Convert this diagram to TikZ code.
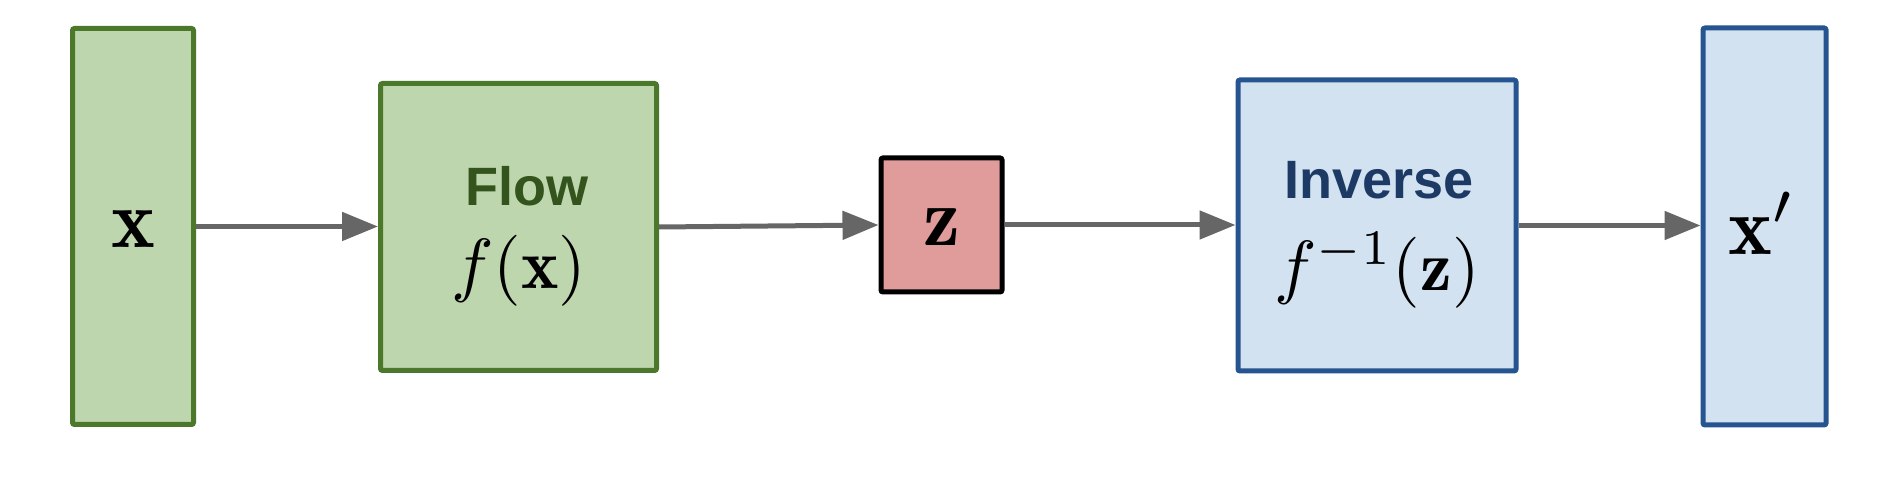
\documentclass[tikz,border=0pt]{standalone}
\usepackage{fontspec}
\newfontfamily\labelfont{Liberation Sans}
\usetikzlibrary{arrows.meta,positioning,calc}
\definecolor{gfill}{RGB}{190,214,174}
\definecolor{gline}{RGB}{75,120,42}
\definecolor{gtext}{RGB}{52,84,30}
\definecolor{bfill}{RGB}{210,226,241}
\definecolor{bline}{RGB}{38,84,145}
\definecolor{btext}{RGB}{28,58,100}
\definecolor{rfill}{RGB}{224,155,155}
\definecolor{arrgray}{RGB}{102,102,102}
\tikzset{
  box/.style={draw, line width=5pt, rounded corners=2pt, inner sep=0pt},
  greenbox/.style={box, draw=gline, fill=gfill},
  bluebox/.style={box, draw=bline, fill=bfill},
  redbox/.style={box, draw=black, fill=rfill},
  mathtxt/.style={font=\fontsize{10}{12}\selectfont, inner sep=0pt, scale=7.1},
  bigmath/.style={font=\fontsize{10}{12}\selectfont, inner sep=0pt, scale=8.3},
  titletxt/.style={font=\labelfont\bfseries\fontsize{54}{64}\selectfont, inner sep=0pt},
  conn/.style={draw=arrgray, line width=5pt, -{Triangle[length=36pt,width=28pt]}}
}
\begin{document}
\begin{tikzpicture}[x=1pt,y=1pt]
\useasboundingbox (0,0) rectangle (1878,486);
\node[greenbox, minimum width=121pt, minimum height=396pt] (xin) at (133,259.5) {};
\node[greenbox, minimum width=276pt, minimum height=287pt] (flow) at (518.5,259) {};
\node[redbox, minimum width=121pt, minimum height=134pt] (z) at (941.5,261) {};
\node[bluebox, minimum width=278pt, minimum height=291pt] (inv) at (1377,260.5) {};
\node[bluebox, minimum width=123pt, minimum height=397pt] (xout) at (1764.5,259.5) {};

\node[bigmath] (xinlab) at (133,257) {$\mathbf{x}$};
\node[titletxt, text=gtext] (flowtitle) at (527,300) {Flow};
\node[mathtxt] (flowmath) at (519,215) {$f(\mathbf{x})$};
\node[bigmath] (zlab) at (941.5,259) {$\mathbf{z}$};
\node[titletxt, text=btext] (invtitle) at (1379,306) {Inverse};
\node[mathtxt] (invmath) at (1377,216) {$f^{-1}(\mathbf{z})$};
\node[bigmath] (xoutlab) at (1762,263) {$\mathbf{x}'$};

\draw[conn] (xin.east) -- (flow.west |- xin.east);
\draw[conn] (flow.east) -- (z.west);
\draw[conn] (z.east) -- (inv.west |- z.east);
\draw[conn] (inv.east) -- (xout.west |- inv.east);
\end{tikzpicture}
\end{document}
